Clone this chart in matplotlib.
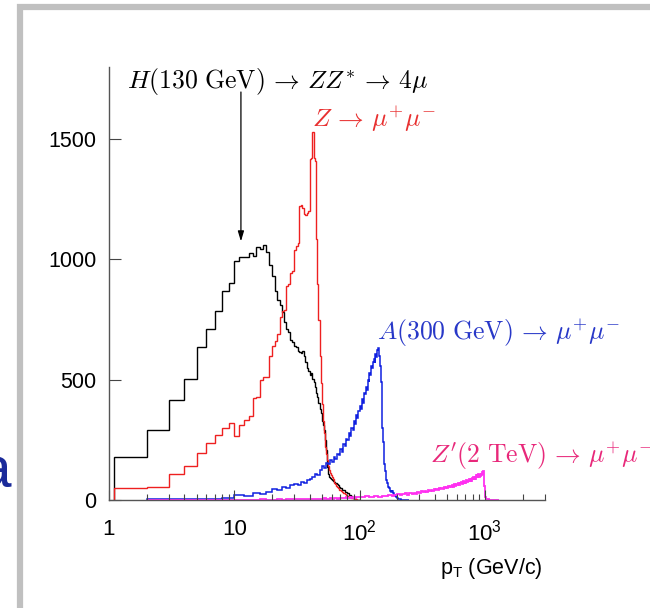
import numpy as np
import matplotlib
matplotlib.use('Agg')
import matplotlib.pyplot as plt
from matplotlib.ticker import LogLocator, NullFormatter
from matplotlib.patches import Rectangle

plt.rcParams['font.family'] = ['Liberation Sans', 'DejaVu Sans']
plt.rcParams['mathtext.fontset'] = 'custom'
plt.rcParams['mathtext.rm'] = 'Liberation Sans'
plt.rcParams['mathtext.it'] = 'Liberation Sans:italic'

# H(130 GeV) -> ZZ* -> 4mu, 1 GeV bins (first bin starts at 1.1)
h_edges = np.array([1.1] + list(range(2, 101)))
h_counts = [180, 292, 417, 503, 635, 712, 785, 868, 903, 993,
            1012, 1010, 1028, 1015, 1050, 1045, 1062, 1030, 975, 930,
            870, 830, 812, 783, 740, 710, 700, 667, 655, 640,
            637, 620, 617, 612, 620, 600, 575, 550, 535, 520,
            529, 505, 492, 470, 445, 430, 405, 380, 362, 330,
            310, 292, 250, 208, 137, 110, 95, 90, 88, 83,
            80, 78, 75, 70, 70, 65, 62, 60, 55, 50,
            48, 45, 42, 40, 40, 38, 35, 33, 30, 30,
            28, 25, 22, 20, 18, 15, 13, 10, 8, 6,
            5, 4, 3, 2, 2, 1, 1, 0, 0]

# Z -> mu+ mu-, same binning
z_counts = [49, 52, 110, 140, 194, 236, 270, 300, 319, 264,
            312, 333, 350, 424, 430, 500, 510, 512, 600, 640,
            660, 690, 760, 785, 790, 890, 900, 945, 950, 1040,
            1055, 1070, 1222, 1225, 1215, 1190, 1185, 1195, 1200, 1417,
            1420, 1528, 1420, 1410, 1083, 900, 750, 600, 487, 400,
            330, 278, 220, 190, 167, 140, 125, 112, 105, 95,
            88, 80, 72, 66, 60, 55, 50, 46, 42, 40,
            38, 35, 32, 30, 28, 26, 25, 22, 20, 18,
            16, 15, 14, 12, 11, 10, 9, 8, 7, 6,
            5, 5, 4, 3, 3, 2, 2, 1, 1]

# A(300 GeV) -> mu+ mu-, 2 GeV bins from 2 to 250
a_edges = np.arange(2, 252, 2)
a_counts = [3, 5, 4, 8, 22, 18, 30, 26, 35, 45,
            40, 55, 50, 62, 68, 62, 75, 70, 82, 88,
            96, 108, 102, 125, 140, 132, 155, 148, 165, 158,
            178, 170, 192, 186, 210, 200, 232, 224, 255, 248,
            278, 268, 300, 290, 330, 318, 352, 340, 372, 392,
            380, 418, 405, 445, 440, 468, 458, 500, 490, 530,
            518, 558, 548, 575, 585, 570, 605, 595, 625, 630,
            615, 600, 555, 490, 400, 300, 240, 190, 150, 120,
            100, 85, 72, 62, 55, 48, 42, 38, 34, 40,
            36, 30, 28, 25, 22, 18, 16, 13, 11, 9,
            8, 6, 5, 4, 4, 3, 3, 2, 2, 2,
            1, 1, 1, 1, 1, 1, 0, 0, 0, 0,
            0, 0, 0, 0]

# Z'(2 TeV) -> mu+ mu-, 2 GeV bins up to 100, then 10 GeV bins up to 1300
zp_edges = np.concatenate([np.arange(2, 102, 2), np.arange(110, 1310, 10)])
zp_counts = [1, 1, 2, 1, 2, 2, 1, 3, 2, 2,
             3, 2, 4, 3, 3, 5, 4, 3, 5, 4,
             6, 5, 4, 6, 5, 7, 6, 5, 8, 6,
             7, 9, 6, 8, 10, 7, 9, 8, 11, 9,
             10, 12, 9, 11, 13, 10, 12, 11, 14,
             12, 15, 11, 16, 14, 17, 15, 19, 16, 21,
             24, 19, 25, 28, 22, 29, 26, 31, 27, 33,
             30, 36, 32, 38, 34, 41, 37, 43, 38, 45,
             40, 47, 42, 49, 44, 51, 46, 53, 48, 55,
             50, 57, 52, 60, 54, 62, 56, 65, 58, 67,
             61, 69, 63, 72, 65, 74, 67, 77, 70, 80,
             72, 82, 74, 85, 77, 88, 79, 90, 81, 93,
             84, 96, 86, 99, 89, 102, 91, 104, 93, 107,
             96, 110, 99, 113, 102, 115, 106, 120, 110, 60,
             25, 12, 8, 6, 5, 4, 3, 3, 2, 2,
             2, 1, 1, 1, 1, 0, 0, 0, 0, 0,
             0, 0, 0, 0, 0, 0, 0, 0, 0, 0]

x_ticks = [1, 10, 100, 1000]
x_ticklabels = ['1', '10', r'$10^{2}$', r'$10^{3}$']
y_ticks = [0, 500, 1000, 1500]

W, H = 650, 608
fig = plt.figure(figsize=(W / 100, H / 100), dpi=100)
ax = fig.add_axes([109 / W, 1 - 500 / H, (544.6 - 109) / W, (500 - 67) / H])

ax.stairs(h_counts, h_edges, color='black', lw=1.0)
ax.stairs(z_counts, h_edges, color='#ee2020', lw=1.0)
ax.stairs(a_counts, a_edges, color='#1020e0', lw=1.1)
ax.stairs(zp_counts, zp_edges, color='#ff30f0', lw=1.3)

ax.set_xscale('log')
ax.set_xlim(1, 3000)
ax.set_ylim(0, 1800)

ax.set_xticks(x_ticks)
ax.set_xticklabels(x_ticklabels)
ax.xaxis.set_minor_locator(LogLocator(base=10, subs=range(2, 10)))
ax.xaxis.set_minor_formatter(NullFormatter())
ax.set_yticks(y_ticks)

for s in ['top', 'right']:
    ax.spines[s].set_visible(False)
for s in ['left', 'bottom']:
    ax.spines[s].set_color('#555555')
    ax.spines[s].set_linewidth(1.0)

ax.tick_params(axis='x', which='major', direction='in', length=7, width=0.8,
               color='#444444', labelsize=16, pad=14)
ax.tick_params(axis='x', which='minor', direction='in', length=4.5, width=0.8,
               color='#444444')
ax.tick_params(axis='y', which='major', direction='in', length=8.5, width=0.8,
               color='#444444', labelsize=15.5, pad=9)

ax.set_xlabel(r'$\mathrm{p_T}$ (GeV/c)', fontsize=15.5, loc='right')
ax.xaxis.set_label_coords(0.996, -0.13)

# labels of the channels (Computer Modern look)
arr = r'\,\rightarrow\,'
ax.text(1.39, 1712, r'$H(130\ \mathrm{GeV})' + arr + r'ZZ^{*}' + arr + r'4\mu$',
        fontsize=18.5, math_fontfamily='cm', color='black', va='baseline')
ax.annotate('', xy=(11.3, 1075), xytext=(11.3, 1696),
            arrowprops=dict(arrowstyle='-|>,head_length=0.6,head_width=0.18',
                            color='black', lw=0.9, shrinkA=0, shrinkB=0))
ax.text(42.1, 1550, r'$Z' + arr + r'\mu^{+}\mu^{-}$',
        fontsize=18.5, math_fontfamily='cm', color='#e83030', va='baseline')
ax.text(137, 667, r'$A(300\ \mathrm{GeV})' + arr + r'\mu^{+}\mu^{-}$',
        fontsize=18.5, math_fontfamily='cm', color='#2838c8', va='baseline')
ax.text(363, 154, r"$Z'(2\ \mathrm{TeV})" + arr + r"\mu^{+}\mu^{-}$",
        fontsize=18.5, math_fontfamily='cm', color='#e8287a', va='baseline')

# slide frame and the clipped title letter
fig.add_artist(Rectangle((20 / W, -0.05), 1.1, 1 - 7 / H + 0.05,
                         transform=fig.transFigure, fill=False,
                         ec='#c0c0c0', lw=4.5))
fig.text(11 / W, 1 - 487 / H, 'a', ha='right', va='baseline',
         fontsize=42, color='#1a2a9a')

fig.savefig('out.png', dpi=100)
